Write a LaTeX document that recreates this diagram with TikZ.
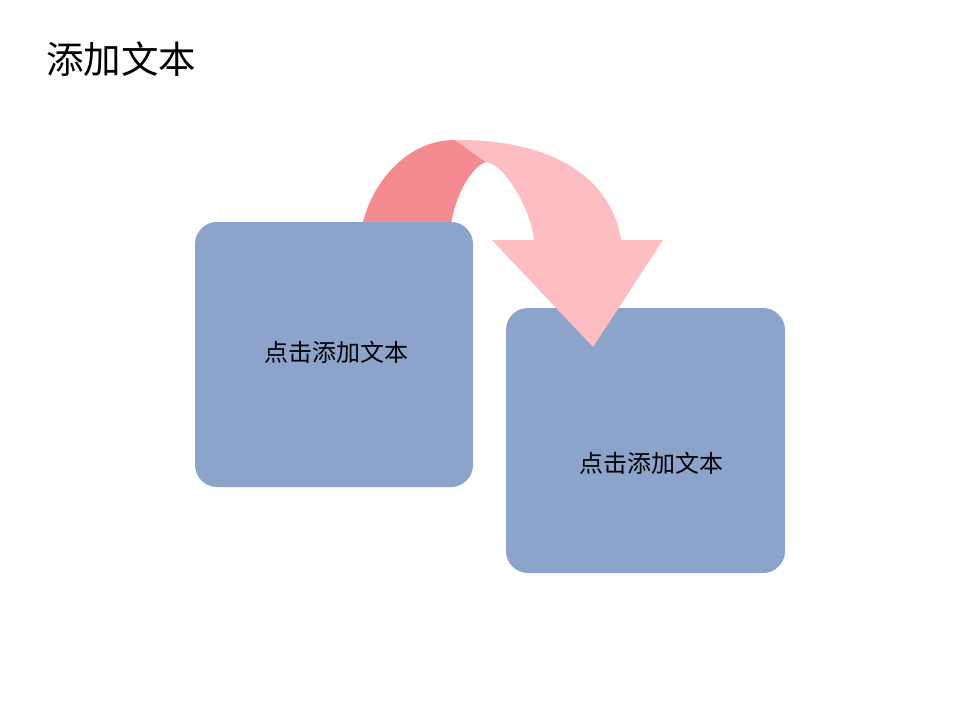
\documentclass[tikz,border=0pt]{standalone}
\usepackage{fontspec}
\newfontfamily\cjk{Noto Sans CJK SC}
\definecolor{boxblue}{HTML}{8CA3CB}
\definecolor{arrowdark}{HTML}{F38B90}
\definecolor{arrowlight}{HTML}{FCBEC3}
\begin{document}
\begin{tikzpicture}[x=1pt,y=-1pt,
  card/.style={fill=boxblue, rounded corners=22pt, inner sep=0pt, minimum width=278pt, minimum height=265pt},
  lbl/.style={font=\cjk\fontsize{24}{28}\selectfont, text=black, inner sep=0pt},
  ttl/.style={font=\cjk\fontsize{37.5}{42}\selectfont, text=black, inner sep=0pt}]
\useasboundingbox[fill=white] (0,0) rectangle (960,720);
\node[ttl] (title) at (121,59) {添加文本};
% second box (under the arrow)
\node[card, minimum width=279pt] (b2) at (645.5,440.5) {};
\node[lbl] (t2) at (651.5,463) {点击添加文本};
% curved arrow
\fill[arrowdark] (363,250) -- (363,222) .. controls (372,185) and (405,140) .. (455,140)
  -- (486,162) .. controls (472,166) and (455,195) .. (451,225) -- (451,250) -- cycle;
\fill[arrowlight] (455,140) .. controls (555,139) and (612,180) .. (621,240)
  -- (663,240) -- (593,347) -- (492,240) -- (534,240)
  .. controls (531,210) and (505,164) .. (486,162) -- cycle;
% first box (over the arrow)
\node[card] (b1) at (334,354.5) {};
\node[lbl] (t1) at (336.5,352) {点击添加文本};
\end{tikzpicture}
\end{document}
